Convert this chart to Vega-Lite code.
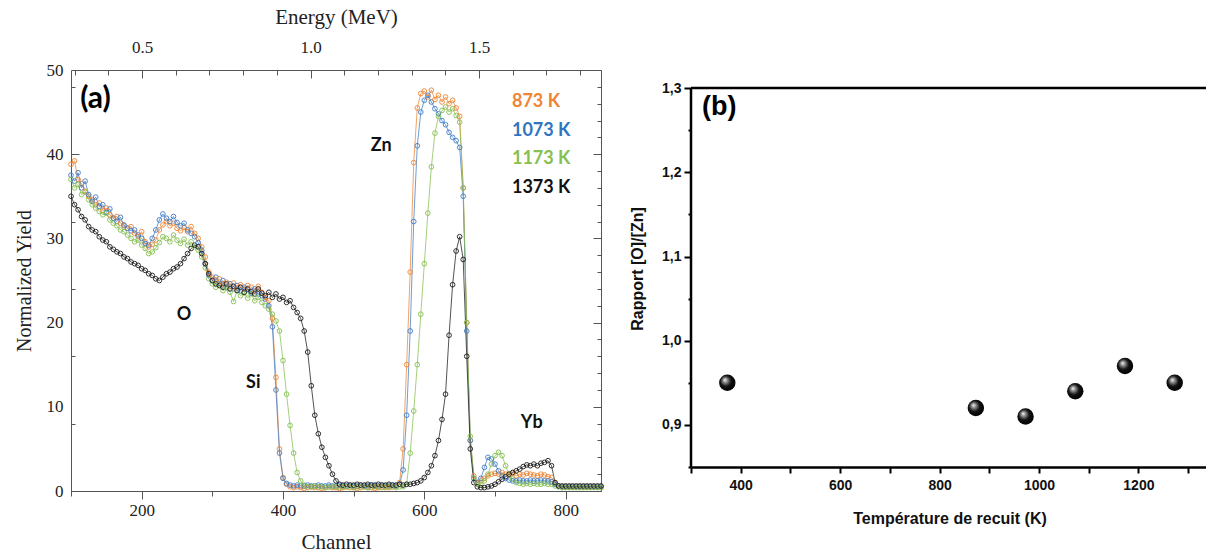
{
"$schema": "https://vega.github.io/schema/vega-lite/v6.json",
"padding": {"left": 14, "top": 6, "right": 0, "bottom": 0},
"background": "white",
"spacing": 23,
"config": {"view": {"stroke": null}},
"datasets": {
"rbs": [
{"c":100,"o":38.8,"b":37.5,"g":37.0,"k":35.0},
{"c":105,"o":39.2,"b":36.8,"g":36.0,"k":34.0},
{"c":110,"o":37.0,"b":37.8,"g":36.4,"k":33.4},
{"c":115,"o":36.5,"b":36.0,"g":35.2,"k":32.6},
{"c":120,"o":35.6,"b":36.8,"g":35.5,"k":32.2},
{"c":125,"o":35.0,"b":35.2,"g":34.6,"k":31.4},
{"c":130,"o":34.6,"b":34.4,"g":34.0,"k":31.0},
{"c":135,"o":34.0,"b":34.9,"g":33.6,"k":30.8},
{"c":140,"o":34.2,"b":33.8,"g":33.2,"k":30.2},
{"c":145,"o":33.3,"b":34.0,"g":32.8,"k":29.8},
{"c":150,"o":33.6,"b":33.1,"g":33.0,"k":29.6},
{"c":155,"o":32.8,"b":33.5,"g":32.2,"k":29.0},
{"c":160,"o":32.4,"b":32.4,"g":31.8,"k":28.7},
{"c":165,"o":32.6,"b":32.0,"g":31.5,"k":28.4},
{"c":170,"o":31.8,"b":32.5,"g":31.0,"k":28.2},
{"c":175,"o":31.5,"b":31.6,"g":30.8,"k":27.8},
{"c":180,"o":31.2,"b":31.2,"g":30.4,"k":27.6},
{"c":185,"o":31.4,"b":30.9,"g":30.0,"k":27.2},
{"c":190,"o":30.6,"b":31.0,"g":29.6,"k":27.0},
{"c":195,"o":30.2,"b":30.4,"g":29.8,"k":26.8},
{"c":200,"o":30.8,"b":30.0,"g":29.2,"k":26.4},
{"c":205,"o":29.6,"b":29.4,"g":28.8,"k":26.2},
{"c":210,"o":29.0,"b":29.2,"g":28.2,"k":25.8},
{"c":215,"o":29.3,"b":30.0,"g":28.4,"k":25.6},
{"c":220,"o":29.8,"b":31.0,"g":28.9,"k":25.2},
{"c":225,"o":31.0,"b":32.2,"g":29.5,"k":25.0},
{"c":230,"o":31.6,"b":32.9,"g":30.2,"k":25.4},
{"c":235,"o":32.0,"b":32.4,"g":30.0,"k":25.8},
{"c":240,"o":31.5,"b":32.0,"g":29.6,"k":26.0},
{"c":245,"o":31.8,"b":32.6,"g":30.4,"k":26.4},
{"c":250,"o":31.2,"b":31.9,"g":29.8,"k":26.6},
{"c":255,"o":30.9,"b":31.5,"g":29.4,"k":27.0},
{"c":260,"o":31.3,"b":31.8,"g":29.9,"k":27.6},
{"c":265,"o":30.8,"b":31.0,"g":29.2,"k":28.2},
{"c":270,"o":31.4,"b":30.6,"g":29.6,"k":28.8},
{"c":275,"o":30.6,"b":30.2,"g":29.0,"k":29.2},
{"c":280,"o":30.0,"b":29.5,"g":28.6,"k":29.0},
{"c":285,"o":29.0,"b":28.6,"g":27.8,"k":28.2},
{"c":290,"o":27.8,"b":27.0,"g":26.5,"k":27.0},
{"c":295,"o":26.0,"b":25.6,"g":25.2,"k":25.8},
{"c":300,"o":25.4,"b":25.0,"g":24.6,"k":25.0},
{"c":305,"o":25.0,"b":25.4,"g":24.2,"k":24.6},
{"c":310,"o":25.2,"b":24.6,"g":24.5,"k":24.4},
{"c":315,"o":24.6,"b":25.0,"g":23.8,"k":24.2},
{"c":320,"o":24.8,"b":24.2,"g":24.1,"k":24.6},
{"c":325,"o":24.3,"b":24.6,"g":23.6,"k":24.0},
{"c":330,"o":24.7,"b":24.0,"g":22.5,"k":24.3},
{"c":335,"o":24.1,"b":24.4,"g":23.8,"k":23.8},
{"c":340,"o":24.5,"b":23.8,"g":23.2,"k":24.2},
{"c":345,"o":24.0,"b":24.2,"g":23.5,"k":23.6},
{"c":350,"o":24.4,"b":23.9,"g":22.9,"k":24.0},
{"c":355,"o":24.2,"b":23.5,"g":23.4,"k":23.7},
{"c":360,"o":23.8,"b":24.0,"g":22.6,"k":23.4},
{"c":365,"o":24.3,"b":23.4,"g":23.0,"k":24.0},
{"c":370,"o":23.6,"b":23.2,"g":22.4,"k":23.5},
{"c":375,"o":23.0,"b":22.8,"g":22.0,"k":23.2},
{"c":380,"o":22.6,"b":22.0,"g":21.6,"k":23.6},
{"c":385,"o":20.5,"b":19.5,"g":21.0,"k":23.0},
{"c":390,"o":13.5,"b":12.0,"g":20.2,"k":23.4},
{"c":395,"o":5.0,"b":4.5,"g":19.0,"k":22.8},
{"c":400,"o":1.6,"b":1.5,"g":15.5,"k":23.0},
{"c":405,"o":0.8,"b":0.9,"g":11.5,"k":22.4},
{"c":410,"o":0.5,"b":0.7,"g":7.8,"k":22.6},
{"c":415,"o":0.4,"b":0.6,"g":4.5,"k":21.8},
{"c":420,"o":0.5,"b":0.7,"g":2.2,"k":21.2},
{"c":425,"o":0.4,"b":0.6,"g":1.2,"k":20.5},
{"c":430,"o":0.3,"b":0.6,"g":0.7,"k":19.0},
{"c":435,"o":0.4,"b":0.7,"g":0.5,"k":16.5},
{"c":440,"o":0.5,"b":0.6,"g":0.5,"k":12.5},
{"c":445,"o":0.4,"b":0.6,"g":0.6,"k":9.0},
{"c":450,"o":0.4,"b":0.7,"g":0.5,"k":6.8},
{"c":455,"o":0.3,"b":0.6,"g":0.5,"k":5.2},
{"c":460,"o":0.4,"b":0.6,"g":0.4,"k":4.0},
{"c":465,"o":0.5,"b":0.7,"g":0.5,"k":3.0},
{"c":470,"o":0.4,"b":0.6,"g":0.5,"k":2.0},
{"c":475,"o":0.4,"b":0.6,"g":0.5,"k":1.2},
{"c":480,"o":0.3,"b":0.7,"g":0.4,"k":0.8},
{"c":485,"o":0.4,"b":0.6,"g":0.5,"k":0.7},
{"c":490,"o":0.5,"b":0.6,"g":0.5,"k":0.8},
{"c":495,"o":0.4,"b":0.7,"g":0.5,"k":0.7},
{"c":500,"o":0.4,"b":0.6,"g":0.4,"k":0.7},
{"c":505,"o":0.3,"b":0.6,"g":0.5,"k":0.8},
{"c":510,"o":0.4,"b":0.7,"g":0.5,"k":0.7},
{"c":515,"o":0.5,"b":0.6,"g":0.5,"k":0.7},
{"c":520,"o":0.4,"b":0.6,"g":0.4,"k":0.8},
{"c":525,"o":0.4,"b":0.7,"g":0.5,"k":0.7},
{"c":530,"o":0.3,"b":0.6,"g":0.5,"k":0.7},
{"c":535,"o":0.4,"b":0.6,"g":0.5,"k":0.8},
{"c":540,"o":0.5,"b":0.7,"g":0.4,"k":0.7},
{"c":545,"o":0.4,"b":0.6,"g":0.5,"k":0.7},
{"c":550,"o":0.4,"b":0.6,"g":0.5,"k":0.8},
{"c":555,"o":0.5,"b":0.7,"g":0.5,"k":0.7},
{"c":560,"o":0.6,"b":0.6,"g":0.4,"k":0.7},
{"c":565,"o":1.0,"b":0.8,"g":0.5,"k":0.8},
{"c":570,"o":5.0,"b":2.5,"g":0.5,"k":0.7},
{"c":575,"o":15.0,"b":9.0,"g":0.8,"k":0.8},
{"c":580,"o":26.0,"b":19.0,"g":4.5,"k":0.8},
{"c":585,"o":39.0,"b":32.0,"g":9.5,"k":0.9},
{"c":590,"o":45.5,"b":41.0,"g":15.0,"k":1.0},
{"c":595,"o":47.2,"b":45.0,"g":21.0,"k":1.2},
{"c":600,"o":47.5,"b":46.4,"g":27.0,"k":1.6},
{"c":605,"o":46.8,"b":47.0,"g":33.0,"k":2.2},
{"c":610,"o":47.6,"b":46.2,"g":38.5,"k":3.0},
{"c":615,"o":46.5,"b":45.4,"g":42.5,"k":4.2},
{"c":620,"o":47.0,"b":44.8,"g":44.5,"k":6.0},
{"c":625,"o":46.2,"b":44.0,"g":45.2,"k":8.5},
{"c":630,"o":46.8,"b":43.5,"g":45.6,"k":11.5},
{"c":635,"o":46.0,"b":42.6,"g":45.0,"k":18.5},
{"c":640,"o":46.4,"b":42.0,"g":45.4,"k":24.5},
{"c":645,"o":45.5,"b":41.6,"g":44.6,"k":28.5},
{"c":650,"o":44.5,"b":40.8,"g":43.8,"k":30.2},
{"c":655,"o":36.0,"b":35.0,"g":36.0,"k":27.5},
{"c":660,"o":20.0,"b":19.0,"g":20.0,"k":16.0},
{"c":665,"o":6.0,"b":6.0,"g":6.5,"k":5.0},
{"c":670,"o":1.8,"b":1.5,"g":1.5,"k":1.0},
{"c":675,"o":1.0,"b":1.0,"g":0.8,"k":0.5},
{"c":680,"o":1.2,"b":1.5,"g":0.8,"k":0.4},
{"c":685,"o":1.5,"b":2.8,"g":1.2,"k":0.4},
{"c":690,"o":1.8,"b":4.0,"g":2.0,"k":0.5},
{"c":695,"o":2.0,"b":3.8,"g":3.2,"k":0.6},
{"c":700,"o":2.1,"b":3.2,"g":4.2,"k":0.8},
{"c":705,"o":2.0,"b":2.4,"g":4.6,"k":1.1},
{"c":710,"o":2.2,"b":1.8,"g":4.2,"k":1.4},
{"c":715,"o":2.0,"b":1.5,"g":3.0,"k":1.7},
{"c":720,"o":1.9,"b":1.3,"g":2.0,"k":2.0},
{"c":725,"o":2.1,"b":1.2,"g":1.4,"k":2.2},
{"c":730,"o":1.8,"b":1.2,"g":1.0,"k":2.4},
{"c":735,"o":2.0,"b":1.3,"g":0.9,"k":2.6},
{"c":740,"o":1.9,"b":1.2,"g":0.8,"k":2.9},
{"c":745,"o":2.1,"b":1.2,"g":0.9,"k":3.1},
{"c":750,"o":2.0,"b":1.3,"g":0.8,"k":3.0},
{"c":755,"o":1.9,"b":1.2,"g":0.9,"k":3.2},
{"c":760,"o":1.8,"b":1.2,"g":0.8,"k":3.0},
{"c":765,"o":2.0,"b":1.3,"g":0.8,"k":3.3},
{"c":770,"o":1.9,"b":1.2,"g":0.9,"k":3.4},
{"c":775,"o":1.7,"b":1.2,"g":0.8,"k":3.6},
{"c":780,"o":1.6,"b":1.1,"g":0.8,"k":3.0},
{"c":785,"o":1.0,"b":0.8,"g":0.6,"k":1.0},
{"c":790,"o":0.6,"b":0.6,"g":0.5,"k":0.6},
{"c":795,"o":0.5,"b":0.5,"g":0.4,"k":0.6},
{"c":800,"o":0.5,"b":0.5,"g":0.4,"k":0.6},
{"c":805,"o":0.5,"b":0.5,"g":0.4,"k":0.6},
{"c":810,"o":0.5,"b":0.5,"g":0.4,"k":0.6},
{"c":815,"o":0.5,"b":0.5,"g":0.4,"k":0.6},
{"c":820,"o":0.5,"b":0.5,"g":0.4,"k":0.6},
{"c":825,"o":0.5,"b":0.5,"g":0.4,"k":0.6},
{"c":830,"o":0.5,"b":0.5,"g":0.4,"k":0.6},
{"c":835,"o":0.5,"b":0.5,"g":0.4,"k":0.6},
{"c":840,"o":0.5,"b":0.5,"g":0.4,"k":0.6},
{"c":845,"o":0.5,"b":0.5,"g":0.4,"k":0.6},
{"c":850,"o":0.5,"b":0.5,"g":0.4,"k":0.6}
],
"ratio": [
{"T":373,"R":0.95},{"T":873,"R":0.92},{"T":973,"R":0.91},{"T":1073,"R":0.94},{"T":1173,"R":0.97},{"T":1273,"R":0.95}
],
"one": [{}],
"dummy": [{"e": 1.0, "r": 25}]
},
"hconcat": [
{
"width": 530, "height": 421,
"layer": [
{
"layer": [
{
"data": {"name": "rbs"},
"transform": [{"fold": ["o","b","g","k"], "as": ["s","v"]}],
"mark": {"type": "line", "strokeWidth": 1, "opacity": 0.75},
"encoding": {
"x": {"field": "c", "type": "quantitative", "scale": {"domain": [100,850], "nice": false, "zero": false},
 "axis": {"title": "Channel", "values": [100,150,200,250,300,350,400,450,500,550,600,650,700,750,800,850], "format": "d",
  "labelExpr": "datum.value % 200 == 0 ? datum.label : ''", "labelOverlap": false,
  "tickSize": {"condition": {"test": "datum.value % 200 == 0", "value": 8}, "value": 5},
  "labelFont": "Liberation Serif", "labelFontSize": 17, "labelColor": "#222", "labelPadding": 3,
  "titleFont": "Liberation Serif", "titleFontSize": 21, "titleFontWeight": "normal", "titleColor": "#222", "titlePadding": 13,
  "domainColor": "#555", "tickColor": "#555", "grid": false}},
"y": {"field": "v", "type": "quantitative", "scale": {"domain": [0,50], "nice": false},
 "axis": {"title": null, "labels": false, "values": [0,2,4,6,8,10,12,14,16,18,20,22,24,26,28,30,32,34,36,38,40,42,44,46,48,50],
  "tickSize": {"condition": {"test": "datum.value % 10 == 0", "value": -8}, "value": -4},
  "domainColor": "#555", "tickColor": "#555", "grid": false}},
"color": {"field": "s", "type": "nominal", "scale": {"domain": ["o","b","g","k"], "range": ["#EE8533","#3D7CC9","#86C04F","#1a1a1a"]}, "legend": null},
"detail": {"field": "s"}
}
},
{
"data": {"name": "rbs"},
"transform": [{"fold": ["o","b","g","k"], "as": ["s","v"]}],
"mark": {"type": "point", "filled": false, "size": 22, "strokeWidth": 1, "opacity": 0.9},
"encoding": {
"x": {"field": "c", "type": "quantitative"},
"y": {"field": "v", "type": "quantitative"},
"color": {"field": "s", "type": "nominal", "legend": null}
}
},
{"data": {"name": "one"}, "mark": {"type": "text", "text": "(a)", "font": "Lato", "fontWeight": "bold", "fontSize": 30, "align": "left", "baseline": "middle", "color": "black"},
 "encoding": {"x": {"datum": 113}, "y": {"datum": 46.6}}},
{"data": {"name": "one"}, "mark": {"type": "text", "text": "873 K", "font": "Lato", "fontWeight": "bold", "fontSize": 18, "align": "left", "baseline": "middle", "color": "#EE8533"},
 "encoding": {"x": {"datum": 724}, "y": {"datum": 46.2}}},
{"data": {"name": "one"}, "mark": {"type": "text", "text": "1073 K", "font": "Lato", "fontWeight": "bold", "fontSize": 18, "align": "left", "baseline": "middle", "color": "#2F75C0"},
 "encoding": {"x": {"datum": 724}, "y": {"datum": 42.8}}},
{"data": {"name": "one"}, "mark": {"type": "text", "text": "1173 K", "font": "Lato", "fontWeight": "bold", "fontSize": 18, "align": "left", "baseline": "middle", "color": "#86C04F"},
 "encoding": {"x": {"datum": 724}, "y": {"datum": 39.4}}},
{"data": {"name": "one"}, "mark": {"type": "text", "text": "1373 K", "font": "Lato", "fontWeight": "bold", "fontSize": 18, "align": "left", "baseline": "middle", "color": "#111111"},
 "encoding": {"x": {"datum": 724}, "y": {"datum": 36.0}}},
{"data": {"name": "one"}, "mark": {"type": "text", "text": "Zn", "font": "Lato", "fontWeight": "bold", "fontSize": 18, "align": "center", "baseline": "middle", "color": "#111111"},
 "encoding": {"x": {"datum": 539}, "y": {"datum": 41.0}}},
{"data": {"name": "one"}, "mark": {"type": "text", "text": "O", "font": "Lato", "fontWeight": "bold", "fontSize": 18, "align": "center", "baseline": "middle", "color": "#111111"},
 "encoding": {"x": {"datum": 260}, "y": {"datum": 20.9}}},
{"data": {"name": "one"}, "mark": {"type": "text", "text": "Si", "font": "Lato", "fontWeight": "bold", "fontSize": 18, "align": "center", "baseline": "middle", "color": "#111111"},
 "encoding": {"x": {"datum": 358}, "y": {"datum": 12.8}}},
{"data": {"name": "one"}, "mark": {"type": "text", "text": "Yb", "font": "Lato", "fontWeight": "bold", "fontSize": 18, "align": "center", "baseline": "middle", "color": "#111111"},
 "encoding": {"x": {"datum": 752}, "y": {"datum": 8.1}}}
]
},
{
"data": {"name": "dummy"},
"mark": {"type": "point", "opacity": 0},
"encoding": {
"y": {"field": "r", "type": "quantitative", "scale": {"domain": [0,50], "nice": false},
 "axis": {"orient": "left", "title": "Normalized Yield", "values": [0,10,20,30,40,50], "ticks": false, "domain": false, "labelOverlap": false,
  "labelFont": "Liberation Serif", "labelFontSize": 17, "labelColor": "#222", "labelPadding": 8,
  "titleFont": "Liberation Serif", "titleFontSize": 20, "titleFontWeight": "normal", "titleColor": "#222", "titlePadding": 12, "grid": false}}
}
},
{
"data": {"name": "dummy"},
"mark": {"type": "point", "opacity": 0},
"encoding": {
"x": {"field": "e", "type": "quantitative", "scale": {"domain": [0.289, 1.862], "nice": false, "zero": false},
 "axis": {"orient": "top", "title": "Energy (MeV)", "values": [0.3,0.4,0.5,0.6,0.7,0.8,0.9,1,1.1,1.2,1.3,1.4,1.5,1.6,1.7,1.8],
  "labelExpr": "(datum.value == 0.5 || datum.value == 1 || datum.value == 1.5) ? format(datum.value, '.1f') : ''", "labelOverlap": false,
  "tickSize": {"condition": {"test": "datum.value == 0.5 || datum.value == 1 || datum.value == 1.5", "value": -8}, "value": -5},
  "labelFont": "Liberation Serif", "labelFontSize": 17, "labelColor": "#222", "labelPadding": 22,
  "titleFont": "Liberation Serif", "titleFontSize": 21, "titleFontWeight": "normal", "titleColor": "#222", "titlePadding": 8,
  "domainColor": "#555", "tickColor": "#555", "grid": false}},
"y": {"field": "r", "type": "quantitative", "scale": {"domain": [0,50], "nice": false},
 "axis": {"orient": "right", "title": null, "labels": false, "values": [0,2,4,6,8,10,12,14,16,18,20,22,24,26,28,30,32,34,36,38,40,42,44,46,48,50],
  "tickSize": {"condition": {"test": "datum.value % 10 == 0", "value": -8}, "value": -4},
  "domainColor": "#555", "tickColor": "#555", "grid": false}}
}
}
],
"resolve": {"scale": {"x": "independent", "y": "independent"}}
},
{
"width": 517, "height": 397,
"layer": [
{"data": {"name": "one"}, "mark": {"type": "rule", "color": "black", "strokeWidth": 2.5}, "encoding": {"y": {"datum": 1.3}}},
{"data": {"name": "one"}, "mark": {"type": "rule", "color": "black", "strokeWidth": 2.5}, "encoding": {"x": {"datum": 300}, "y": {"datum": 0.85}, "y2": {"datum": 1.3}}},
{
"data": {"name": "ratio"},
"mark": {"type": "point", "filled": true, "size": 270, "opacity": 1, "strokeWidth": 0,
 "fill": {"gradient": "radial", "x1": 0.35, "y1": 0.32, "r1": 0.0, "x2": 0.45, "y2": 0.45, "r2": 0.6,
  "stops": [{"offset": 0, "color": "#ffffff"}, {"offset": 0.2, "color": "#9a9a9a"}, {"offset": 0.55, "color": "#111111"}, {"offset": 1, "color": "#000000"}]}},
"encoding": {
"x": {"field": "T", "type": "quantitative", "scale": {"domain": [300,1340], "nice": false, "zero": false},
 "axis": {"title": "Température de recuit (K)", "values": [300,400,500,600,700,800,900,1000,1100,1200,1300], "format": "d",
  "labelExpr": "datum.value % 200 == 0 ? datum.label : ''", "labelOverlap": false,
  "tickSize": 6, "tickWidth": 2, "tickColor": "black", "domainWidth": 2.5, "domainColor": "black",
  "labelFont": "Liberation Sans", "labelFontWeight": "bold", "labelFontSize": 14, "labelColor": "#111", "labelPadding": 5,
  "titleFont": "Liberation Sans", "titleFontWeight": "bold", "titleFontSize": 16, "titleColor": "#111", "titlePadding": 18, "grid": false}},
"y": {"field": "R", "type": "quantitative", "scale": {"domain": [0.85,1.3215], "nice": false, "zero": false},
 "axis": {"title": "Rapport [O]/[Zn]", "values": [0.85,0.9,0.95,1,1.05,1.1,1.15,1.2,1.25,1.3], "domain": false,
  "labelExpr": "round(datum.value*100) % 10 == 0 ? replace(format(datum.value, '.1f'), '.', ',') : ''", "labelOverlap": false,
  "tickSize": {"condition": {"test": "round(datum.value*100) % 10 == 0", "value": 7}, "value": 3}, "tickWidth": 2, "tickColor": "black",
  "labelFont": "Liberation Sans", "labelFontWeight": "bold", "labelFontSize": 14, "labelColor": "#111", "labelPadding": 3,
  "titleFont": "Liberation Sans", "titleFontWeight": "bold", "titleFontSize": 16, "titleColor": "#111", "titlePadding": 16, "grid": false}}
}
},
{"data": {"name": "one"}, "mark": {"type": "text", "text": "(b)", "font": "Liberation Sans", "fontWeight": "bold", "fontSize": 27, "align": "left", "baseline": "middle", "color": "black"},
 "encoding": {"x": {"datum": 322}, "y": {"datum": 1.277}}}
]
}
]
}
